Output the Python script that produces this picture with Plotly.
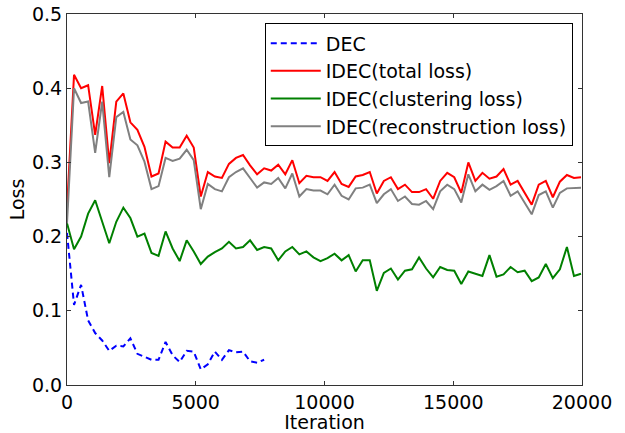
import plotly.graph_objects as go

# iterations sampled once per epoch (70000 samples / batch 256)
n_idec = 74
n_dec = 29
iters_per_epoch = 70000 / 256
iter_idec = [round(k * iters_per_epoch) for k in range(n_idec)]
iter_dec = [round(k * iters_per_epoch) for k in range(n_dec)]

dec_loss = [0.205, 0.108, 0.135, 0.087, 0.070, 0.060, 0.046, 0.053, 0.052, 0.063,
            0.042, 0.038, 0.034, 0.034, 0.058, 0.040, 0.031, 0.046, 0.045, 0.021,
            0.028, 0.045, 0.034, 0.047, 0.044, 0.045, 0.032, 0.030, 0.034]

idec_total = [0.238, 0.418, 0.400, 0.404, 0.337, 0.403, 0.299, 0.382, 0.393, 0.354,
              0.344, 0.321, 0.281, 0.285, 0.328, 0.320, 0.320, 0.336, 0.320, 0.254,
              0.287, 0.281, 0.279, 0.298, 0.306, 0.310, 0.296, 0.284, 0.292, 0.289,
              0.297, 0.284, 0.303, 0.272, 0.282, 0.280, 0.280, 0.275, 0.287, 0.271,
              0.267, 0.281, 0.283, 0.287, 0.258, 0.275, 0.280, 0.264, 0.270, 0.260,
              0.260, 0.264, 0.251, 0.275, 0.286, 0.280, 0.259, 0.300, 0.275, 0.286,
              0.278, 0.281, 0.291, 0.270, 0.275, 0.259, 0.243, 0.270, 0.275, 0.253,
              0.274, 0.283, 0.279, 0.280]

idec_clustering = [0.218, 0.183, 0.200, 0.231, 0.249, 0.220, 0.191, 0.220, 0.239, 0.225,
                   0.200, 0.204, 0.178, 0.174, 0.207, 0.184, 0.167, 0.195, 0.180, 0.163,
                   0.173, 0.179, 0.184, 0.193, 0.184, 0.186, 0.195, 0.182, 0.186, 0.184,
                   0.168, 0.180, 0.186, 0.176, 0.180, 0.172, 0.167, 0.171, 0.177, 0.168,
                   0.175, 0.153, 0.168, 0.168, 0.127, 0.151, 0.157, 0.142, 0.154, 0.156,
                   0.172, 0.157, 0.145, 0.159, 0.155, 0.154, 0.136, 0.153, 0.150, 0.147,
                   0.175, 0.146, 0.149, 0.159, 0.152, 0.154, 0.140, 0.145, 0.163, 0.144,
                   0.156, 0.186, 0.147, 0.150]

idec_reconstruction = [0.218, 0.400, 0.380, 0.382, 0.313, 0.382, 0.280, 0.361, 0.368, 0.331,
                       0.323, 0.301, 0.264, 0.268, 0.306, 0.302, 0.305, 0.317, 0.303, 0.237,
                       0.271, 0.264, 0.261, 0.280, 0.287, 0.292, 0.279, 0.266, 0.273, 0.271,
                       0.279, 0.265, 0.285, 0.254, 0.264, 0.262, 0.262, 0.257, 0.270, 0.255,
                       0.250, 0.265, 0.266, 0.270, 0.245, 0.257, 0.264, 0.248, 0.254, 0.244,
                       0.243, 0.248, 0.237, 0.261, 0.270, 0.264, 0.246, 0.284, 0.261, 0.270,
                       0.263, 0.268, 0.275, 0.255, 0.261, 0.245, 0.230, 0.256, 0.261, 0.239,
                       0.259, 0.265, 0.265, 0.266]

x_ticks = [0, 5000, 10000, 15000, 20000]
y_ticks = [0.0, 0.1, 0.2, 0.3, 0.4, 0.5]

font = dict(family="DejaVu Sans", size=19, color="black")

fig = go.Figure()
fig.add_trace(go.Scatter(x=iter_dec, y=dec_loss, mode="lines", name="DEC",
                         legendgroup="a",
                         line=dict(color="#0000ff", width=2, dash="6px,4px")))
fig.add_trace(go.Scatter(x=iter_idec, y=idec_total, mode="lines", name="IDEC(total loss)",
                         legendgroup="b",
                         line=dict(color="#ff0000", width=2)))
fig.add_trace(go.Scatter(x=iter_idec, y=idec_clustering, mode="lines",
                         name="IDEC(clustering loss)", legendgroup="c",
                         line=dict(color="#008000", width=2)))
fig.add_trace(go.Scatter(x=iter_idec, y=idec_reconstruction, mode="lines",
                         name="IDEC(reconstruction loss)", legendgroup="d",
                         line=dict(color="#808080", width=2)))

axis_common = dict(showline=True, linecolor="#333333", linewidth=1, mirror="ticks",
                   ticks="inside", ticklen=4, tickwidth=1, tickcolor="#333333",
                   showgrid=False, zeroline=False, tickfont=font, automargin=False)

fig.update_xaxes(range=[0, 20000], tickvals=x_ticks,
                 ticktext=[str(v) for v in x_ticks],
                 title=dict(text="Iteration", font=font, standoff=0), **axis_common)
fig.update_yaxes(range=[0, 0.5], tickvals=y_ticks,
                 ticktext=[f"{v:.1f}" for v in y_ticks],
                 title=dict(text="Loss", font=font, standoff=2), **axis_common)

fig.update_layout(
    width=625, height=433,
    margin=dict(l=67, r=43, t=14, b=48),
    paper_bgcolor="white", plot_bgcolor="white",
    font=font,
    showlegend=True,
    legend=dict(x=0.384, y=0.975, xanchor="left", yanchor="top",
                bgcolor="white", bordercolor="black", borderwidth=1,
                font=font, itemwidth=50, tracegroupgap=0),
)

fig.write_html("out.html",
               config={"displayModeBar": False},
               post_script="document.body.style.margin='0px';"
                           "document.body.style.overflow='hidden';")
